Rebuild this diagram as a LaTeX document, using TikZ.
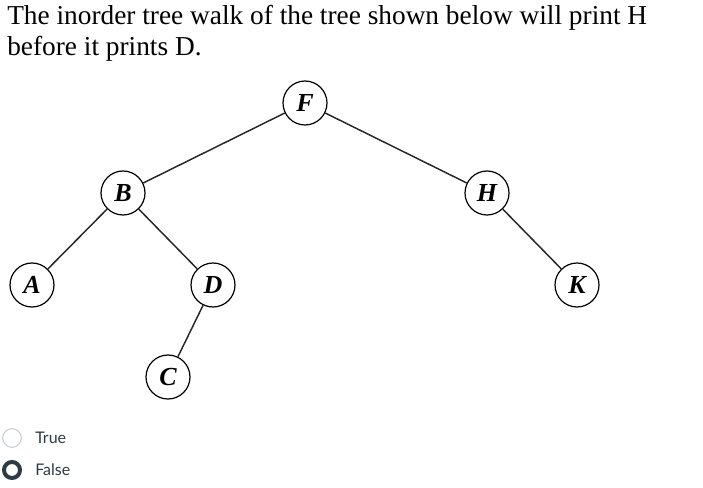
\documentclass[tikz,border=0pt]{standalone}
\usepackage{fontspec}
\setmainfont{Liberation Serif}
\newfontfamily\latofont{Lato}
\definecolor{radiodark}{HTML}{2D3B45}
\definecolor{radiolight}{HTML}{C7CDD1}
\begin{document}
\begin{tikzpicture}[x=0.75pt,y=-0.75pt,
  treenode/.style={circle,draw=black,line width=0.9pt,minimum size=33pt,inner sep=0pt,font=\fontsize{19.5}{19.5}\selectfont\bfseries\itshape},
  treeedge/.style={draw=black!85,line width=1.1pt},
  opttext/.style={anchor=west,inner sep=0pt,text=radiodark,font=\latofont\fontsize{12}{12}\selectfont}]
\useasboundingbox (0,0) rectangle (703,488);
\node[anchor=base west,inner sep=0pt,font=\fontsize{20.5}{20.5}\selectfont] (t1) at (7,25) {The inorder tree walk of the tree shown below will print H};
\node[anchor=base west,inner sep=0pt,font=\fontsize{20.5}{20.5}\selectfont] (t2) at (7,56) {before it prints D.};
\node[treenode] (F) at (305,103) {F};
\node[treenode] (B) at (123,193) {B};
\node[treenode] (H) at (487,193) {H};
\node[treenode] (A) at (32,285) {A};
\node[treenode] (D) at (213,285) {D};
\node[treenode] (K) at (577,285) {K};
\node[treenode] (C) at (168,377) {C};
\draw[treeedge] (F) -- (B);
\draw[treeedge] (F) -- (H);
\draw[treeedge] (B) -- (A);
\draw[treeedge] (B) -- (D);
\draw[treeedge] (D) -- (C);
\draw[treeedge] (H) -- (K);
\node[circle,draw=radiolight,line width=0.8pt,minimum size=14pt,inner sep=0pt] (r1) at (12,438) {};
\node[circle,draw=radiodark,line width=3pt,minimum size=12pt,inner sep=0pt] (r2) at (12,470) {};
\node[opttext] (o1) at (35,438) {True};
\node[opttext] (o2) at (35,470) {False};
\end{tikzpicture}
\end{document}
